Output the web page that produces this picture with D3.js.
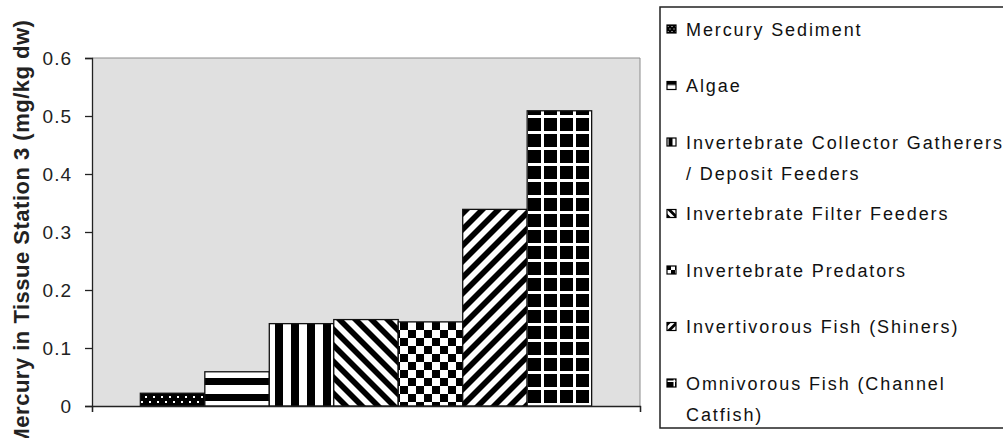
<!DOCTYPE html>
<html>
<head>
<meta charset="utf-8">
<script src="https://cdn.jsdelivr.net/npm/d3@7"></script>
<style>
  html, body { margin: 0; padding: 0; background: #fff; }
  svg { display: block; }
</style>
</head>
<body>
<svg id="chart" width="1003" height="438"></svg>
<script>
// Mercury concentrations in tissue, station 3 (mg/kg dw)
const series = [
  "Mercury Sediment",
  "Algae",
  "Invertebrate Collector Gatherers / Deposit Feeders",
  "Invertebrate Filter Feeders",
  "Invertebrate Predators",
  "Invertivorous Fish (Shiners)",
  "Omnivorous Fish (Channel Catfish)"
];
const values = [0.022, 0.059, 0.142, 0.149, 0.145, 0.339, 0.509];
const legendLines = [
  ["Mercury Sediment"],
  ["Algae"],
  ["Invertebrate Collector Gatherers", "/ Deposit Feeders"],
  ["Invertebrate Filter Feeders"],
  ["Invertebrate Predators"],
  ["Invertivorous Fish (Shiners)"],
  ["Omnivorous Fish (Channel", "Catfish)"]
];
const patternKinds = ["dots", "hstripes", "vstripes", "diagDown", "checker", "diagUp", "grid"];
const yTicks = [0, 0.1, 0.2, 0.3, 0.4, 0.5, 0.6];
const yTickLabels = ["0", "0.1", "0.2", "0.3", "0.4", "0.5", "0.6"];
const yTitle = "Mercury in Tissue Station 3 (mg/kg dw)";

const FONT = "'Liberation Sans', Arial, sans-serif";
const svg = d3.select("#chart");
const defs = svg.append("defs");

// plot area
const plot = { left: 92, right: 640, top: 58, bottom: 406 };

const y = d3.scaleLinear().domain([0, 0.6]).range([plot.bottom, plot.top]);
const x = d3.scaleBand().domain(series).range([plot.left, plot.right])
  .paddingInner(0).paddingOuter(0.75);

// fill patterns: black/white hatches drawn in tile space
function makePattern(id, kind, transform) {
  let w = 16, h = 16;
  if (kind === "dots") { w = 8; h = 10; }
  if (kind === "diagDown" || kind === "diagUp") { w = 16 / Math.SQRT2; h = w; }
  const p = defs.append("pattern")
    .attr("id", id)
    .attr("patternUnits", "userSpaceOnUse")
    .attr("width", w).attr("height", h)
    .attr("patternTransform", transform);
  const bg = (kind === "dots" || kind === "grid") ? "#000" : "#fff";
  p.append("rect").attr("width", w).attr("height", h).attr("fill", bg);
  const ink = kind === "dots" || kind === "grid" ? "#fff" : "#000";
  const r = (a, b, c, d) => p.append("rect").attr("x", a).attr("y", b)
    .attr("width", c).attr("height", d).attr("fill", ink);
  switch (kind) {
    case "dots": r(1, 2, 2, 2); r(5, 7, 2, 2); break;
    case "hstripes": r(0, 0, 16, 7); break;
    case "vstripes": r(3, 0, 8, 16); break;
    case "diagDown":
    case "diagUp": r(0, 0, w / 2, h); break;
    case "checker": r(0, 0, 8, 8); r(8, 8, 8, 8); break;
    case "grid": r(13, 0, 3, 16); r(0, 3, 16, 3); break;
  }
}

const rotateFor = k => k === "diagDown" ? " rotate(-45)" : (k === "diagUp" ? " rotate(45)" : "");
const barOffset = { dots: [0, 394], hstripes: [0, 378], vstripes: [0, 0], diagDown: [0, 0],
                    checker: [0, 2], diagUp: [0, 0], grid: [0, 0] };
patternKinds.forEach((k, i) => {
  const o = barOffset[k];
  makePattern("bar-" + i, k, `translate(${o[0]},${o[1]})` + rotateFor(k));
});

// plot background
svg.append("rect")
  .attr("x", plot.left).attr("y", plot.top)
  .attr("width", plot.right - plot.left).attr("height", plot.bottom - plot.top)
  .attr("fill", "#e0e0e0");
svg.append("path")
  .attr("d", `M${plot.left},${plot.top}H${plot.right}V${plot.bottom}`)
  .attr("fill", "none").attr("stroke", "#8c8c8c").attr("stroke-width", 1);

// bars
svg.append("g").selectAll("rect")
  .data(series)
  .join("rect")
  .attr("x", d => x(d))
  .attr("y", (d, i) => y(values[i]))
  .attr("width", x.bandwidth())
  .attr("height", (d, i) => y(0) - y(values[i]))
  .attr("fill", (d, i) => `url(#bar-${i})`)
  .attr("stroke", "#111")
  .attr("stroke-width", 1.3);

// y axis
const yAxis = svg.append("g")
  .attr("transform", `translate(${plot.left},0)`)
  .call(d3.axisLeft(y).tickValues(yTicks).tickSize(7).tickPadding(13)
    .tickFormat((d, i) => yTickLabels[i]));
yAxis.select(".domain").attr("stroke", "#222").attr("stroke-width", 1.3);
yAxis.selectAll(".tick line").attr("stroke", "#222").attr("stroke-width", 1.3);
yAxis.selectAll(".tick text")
  .attr("font-family", FONT).attr("font-size", 19).attr("fill", "#222")
  .style("letter-spacing", "1px");

// category axis: baseline with end ticks
const xAxis = svg.append("g")
  .attr("transform", `translate(0,${plot.bottom})`)
  .call(d3.axisBottom(d3.scaleLinear().domain([0, 1]).range([plot.left, plot.right]))
    .tickValues([0, 1]).tickSize(6).tickFormat(""));
xAxis.select(".domain").attr("stroke", "#222").attr("stroke-width", 1.3);
xAxis.selectAll(".tick line").attr("stroke", "#222").attr("stroke-width", 1.3);

// y axis title
svg.append("text")
  .attr("transform", `translate(29,${(plot.top + plot.bottom) / 2 + 1}) rotate(-90)`)
  .attr("text-anchor", "middle")
  .attr("font-family", FONT).attr("font-size", 22).attr("font-weight", "bold")
  .attr("fill", "#222")
  .style("letter-spacing", "0.5px")
  .text(yTitle);

// legend
const legend = { left: 660, top: 7, bottom: 428, right: 1012 };
svg.append("rect")
  .attr("x", legend.left).attr("y", legend.top)
  .attr("width", legend.right - legend.left).attr("height", legend.bottom - legend.top)
  .attr("fill", "#fff").attr("stroke", "#222").attr("stroke-width", 1.5);

let cy = 29;
const step = 56.5, extra = 15, wrapGap = 31;
const sw = 9, sh = 8, sx = 667;
legendLines.forEach((lines, i) => {
  const k = patternKinds[i];
  const top = cy - sh / 2;
  makePattern("sw-" + i, k, `translate(${sx},${top}) scale(0.5)` + rotateFor(k));
  svg.append("rect")
    .attr("x", sx).attr("y", top).attr("width", sw).attr("height", sh)
    .attr("fill", `url(#sw-${i})`).attr("stroke", "#000").attr("stroke-width", 1.2);
  lines.forEach((ln, j) => {
    svg.append("text")
      .attr("x", 686).attr("y", cy + j * wrapGap + 6.5)
      .attr("font-family", FONT).attr("font-size", 18).attr("fill", "#111")
      .style("letter-spacing", "1.9px")
      .text(ln);
  });
  cy += step + (lines.length - 1) * extra;
});
</script>
</body>
</html>
